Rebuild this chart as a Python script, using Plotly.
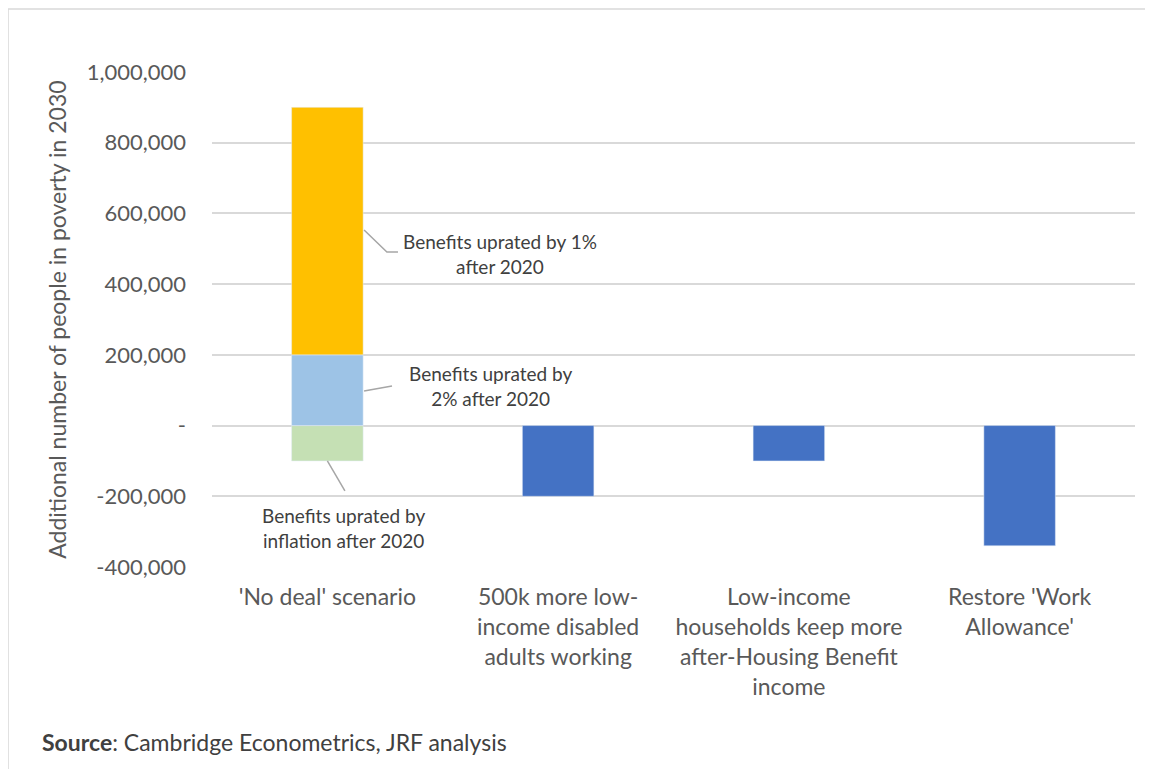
import plotly.graph_objects as go

categories = ["'No deal' scenario",
              "500k more low-<br>income disabled<br>adults working",
              "Low-income<br>households keep more<br>after-Housing Benefit<br>income",
              "Restore 'Work<br>Allowance'"]
cat_idx = [0, 1, 2, 3]

# Stacked components for the 'No deal' scenario
inflation_vals = [-100000, None, None, None]
two_pct_vals = [200000, None, None, None]
one_pct_vals = [700000, None, None, None]
policy_vals = [None, -200000, -100000, -340000]

tick_vals = [-400000, -200000, 0, 200000, 400000, 600000, 800000, 1000000]
tick_text = ["-400,000", "-200,000", "-", "200,000", "400,000", "600,000", "800,000", "1,000,000"]

FONT = "Lato"
GREY = "#595959"
DARK = "#404040"

fig = go.Figure()
fig.add_bar(x=cat_idx, y=inflation_vals, marker_color="#C5E0B4", name="inflation", width=0.31)
fig.add_bar(x=cat_idx, y=two_pct_vals, marker_color="#9DC3E6", name="2%", width=0.31)
fig.add_bar(x=cat_idx, y=one_pct_vals, marker_color="#FFC000", name="1%", width=0.31)
fig.add_bar(x=cat_idx, y=policy_vals, marker_color="#4472C4", name="policy", width=0.31)

line_style = dict(color="#A6A6A6", width=1.5)
# leader lines
fig.add_shape(type="path", xref="x", yref="y",
              path="M 0.159 553000 L 0.258 491000 L 0.306 491000", line=line_style)
fig.add_shape(type="path", xref="x", yref="y",
              path="M 0.159 98000 L 0.280 112000", line=line_style)
fig.add_shape(type="line", xref="x", yref="y",
              x0=0.0, y0=-100000, x1=0.076, y1=-185000, line=line_style)

ann_font = dict(family=FONT, size=19, color=DARK)
fig.add_annotation(x=0.748, y=485000, xref="x", yref="y", showarrow=False,
                   text="Benefits uprated by 1%<br>after 2020", font=ann_font, align="center")
fig.add_annotation(x=0.709, y=112000, xref="x", yref="y", showarrow=False,
                   text="Benefits uprated by<br>2% after 2020", font=ann_font, align="center")
fig.add_annotation(x=0.072, y=-290000, xref="x", yref="y", showarrow=False,
                   text="Benefits uprated by<br>inflation after 2020", font=ann_font, align="center")

# y-axis title
fig.add_annotation(x=-0.186, y=0.5, xref="paper", yref="paper", showarrow=False,
                   text="Additional number of people in poverty in 2030", textangle=-90,
                   font=dict(family=FONT, size=23, color=GREY))
# source
fig.add_annotation(x=-0.186, y=-0.353, xref="paper", yref="paper", showarrow=False,
                   xanchor="left", yanchor="middle",
                   text="<b>Source</b>: Cambridge Econometrics, JRF analysis",
                   font=dict(family=FONT, size=23, color=DARK))

# outer border (top and left edges only)
fig.add_shape(type="path", xref="paper", yref="paper",
              path="M -0.221 -0.5 L -0.221 1.1275 L 1.2 1.1275",
              line=dict(color="#D9D9D9", width=1.5), layer="below")

fig.update_layout(
    barmode="relative",
    width=1145, height=761,
    margin=dict(l=204, r=18, t=64, b=202),
    paper_bgcolor="white", plot_bgcolor="white",
    showlegend=False,
    font=dict(family=FONT, color=GREY),
)
fig.update_xaxes(tickvals=cat_idx, ticktext=categories, range=[-0.5, 3.5],
                 tickfont=dict(family=FONT, size=23, color=GREY),
                 showgrid=False, zeroline=False, showline=False, ticks="",
                 ticklabelstandoff=14)
fig.update_yaxes(range=[-400000, 1000000], tickvals=tick_vals, ticktext=tick_text,
                 tickfont=dict(family=FONT, size=22, color=GREY),
                 showgrid=True, gridcolor="#D9D9D9", gridwidth=1.5,
                 zeroline=True, zerolinecolor="#D9D9D9", zerolinewidth=1.5,
                 showline=False, ticks="", ticklabelstandoff=25)

fig.write_html("out.html")
